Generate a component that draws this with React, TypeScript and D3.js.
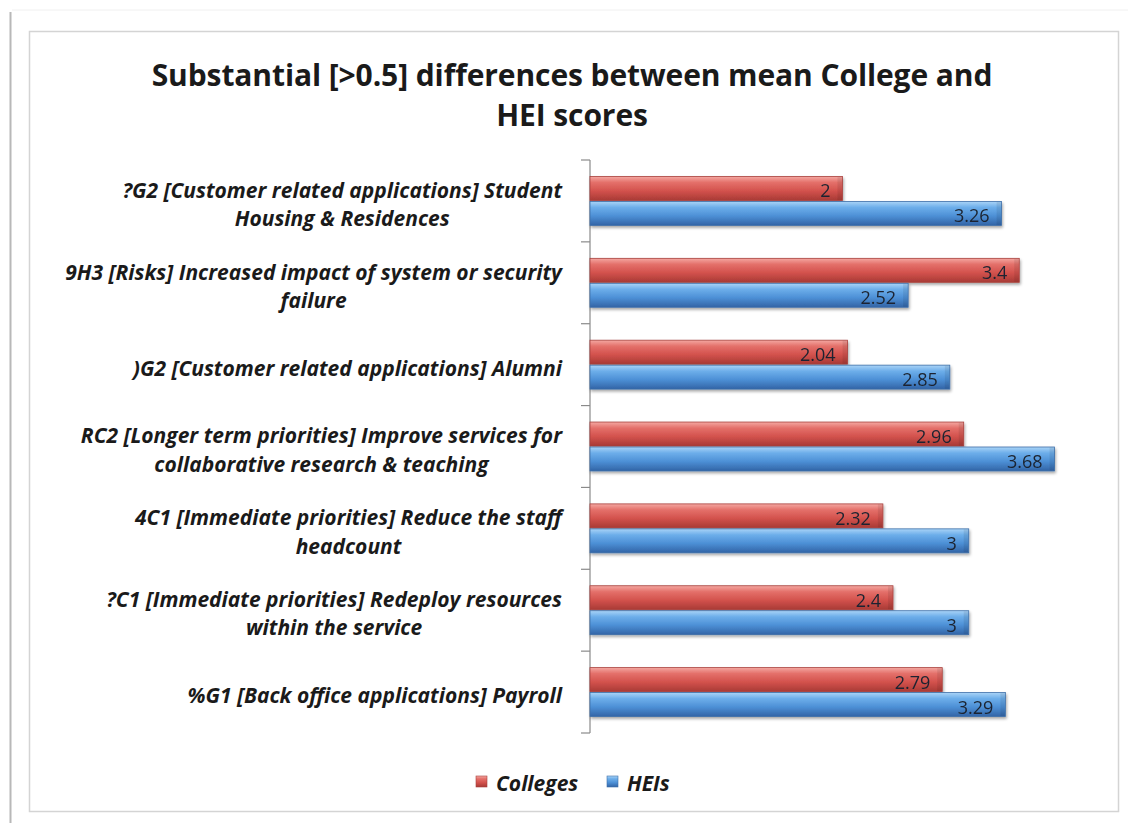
import React, { useLayoutEffect, useRef, useState } from "react";
import * as d3 from "d3";

const categories: string[][] = [
  ["?G2 [Customer related applications] Student", "Housing & Residences"],
  ["9H3 [Risks] Increased impact of system or security", "failure"],
  [")G2 [Customer related applications] Alumni"],
  ["RC2 [Longer term priorities] Improve services for", "collaborative research & teaching"],
  ["4C1 [Immediate priorities] Reduce the staff", "headcount"],
  ["?C1 [Immediate priorities] Redeploy resources", "within the service"],
  ["%G1 [Back office applications] Payroll"],
];
const colleges: number[] = [2, 3.4, 2.04, 2.96, 2.32, 2.4, 2.79];
const heis: number[] = [3.26, 2.52, 2.85, 3.68, 3, 3, 3.29];
const seriesNames = ["Colleges", "HEIs"];
const titleLines = ["Substantial [>0.5] differences between mean College and", "HEI scores"];

const W = 1128;
const H = 823;
const FONT = "'Open Sans', Lato, sans-serif";
const LABEL_RIGHT = 562;

export default function App() {
  const x = d3.scaleLinear().domain([0, 4]).range([590, 1095]);
  const ids = categories.map((_, i) => String(i));
  const y = d3.scaleBand<string>().domain(ids).range([160, 733]);
  const inner = d3.scaleBand<string>().domain(["0", "1"]).range([0, y.bandwidth()]).paddingOuter(0.66).paddingInner(0.04);
  const bh = inner.bandwidth();
  const series = [colleges, heis];
  const grads = ["gRed", "gBlue"];
  const strokes = ["#a8403c", "#3c6ea8"];
  const fmt = (v: number) => String(v);

  const groupRefs = useRef<(SVGGElement | null)[]>([]);
  const [widths, setWidths] = useState<number[] | null>(null);
  useLayoutEffect(() => {
    const w = groupRefs.current.map((g) => {
      if (!g) return 0;
      let m = 0;
      g.querySelectorAll("text").forEach((t) => {
        m = Math.max(m, (t as SVGTextElement).getComputedTextLength());
      });
      return m;
    });
    setWidths(w);
  }, []);

  return (
    <svg width={W} height={H} style={{ position: "absolute", left: 0, top: 0, background: "#fff" }}>
      <defs>
        <linearGradient id="gRed" x1="0" y1="0" x2="0" y2="1">
          <stop offset="0" stopColor="#f4a8a2" />
          <stop offset="0.25" stopColor="#e4706a" />
          <stop offset="0.6" stopColor="#d3524d" />
          <stop offset="1" stopColor="#a83a35" />
        </linearGradient>
        <linearGradient id="gBlue" x1="0" y1="0" x2="0" y2="1">
          <stop offset="0" stopColor="#aad4f7" />
          <stop offset="0.25" stopColor="#6daeea" />
          <stop offset="0.6" stopColor="#4d90d6" />
          <stop offset="1" stopColor="#3264a6" />
        </linearGradient>
        <filter id="shadow" x="-5%" y="-20%" width="110%" height="160%">
          <feGaussianBlur in="SourceAlpha" stdDeviation="1.5" />
          <feOffset dx="1" dy="2" result="b" />
          <feComponentTransfer><feFuncA type="linear" slope="0.35" /></feComponentTransfer>
          <feMerge><feMergeNode /><feMergeNode in="SourceGraphic" /></feMerge>
        </filter>
      </defs>
      {/* frame */}
      <line x1={12} y1={10} x2={W} y2={10} stroke="#f0f0f0" strokeWidth={1} />
      <line x1={10.5} y1={12} x2={10.5} y2={H} stroke="#b8b8b8" strokeWidth={2} />
      <rect x={29.5} y={31.5} width={1089} height={780} fill="none" stroke="#d4d4d4" strokeWidth={1.5} />

      {/* title */}
      {titleLines.map((t, i) => (
        <text key={i} x={572} y={74 + i * 40} textAnchor="middle" dominantBaseline="central"
          fontFamily={FONT} fontWeight="bold" fontSize={30} fill="#1a1a1a" letterSpacing={-0.1}>{t}</text>
      ))}

      {/* axis */}
      <line x1={590} y1={160} x2={590} y2={733} stroke="#8a8a8a" strokeWidth={1.2} />
      {[...ids, "end"].map((id, i) => {
        const yy = i < ids.length ? (y(id) as number) : 733;
        return <line key={i} x1={581} x2={590} y1={yy} y2={yy} stroke="#8a8a8a" strokeWidth={1.2} />;
      })}

      {/* category labels */}
      {categories.map((lines, i) => {
        const c = (y(String(i)) as number) + y.bandwidth() / 2 + 3;
        const lh = 28.5;
        const top = c - ((lines.length - 1) * lh) / 2;
        const bw = widths ? widths[i] : 0;
        const cx = LABEL_RIGHT - bw / 2;
        return (
          <g key={i} ref={(el) => { groupRefs.current[i] = el; }}>
            {lines.map((l, j) => (
              <text key={j} x={widths ? cx : LABEL_RIGHT} y={top + j * lh}
                textAnchor={widths ? "middle" : "end"} dominantBaseline="central"
                fontFamily={FONT} fontWeight="bold" fontStyle="italic" fontSize={21} fill="#1a1a1a"
              >{l}</text>
            ))}
          </g>
        );
      })}

      {/* bars */}
      {series.map((vals, s) => (
        <g key={s}>
          {vals.map((v, i) => {
            const y0 = (y(String(i)) as number) + (inner(String(s)) as number);
            const x1 = x(v);
            return (
              <g key={i} filter="url(#shadow)">
                <rect x={590} y={y0} width={x1 - 590} height={bh} fill={`url(#${grads[s]})`} stroke={strokes[s]} strokeWidth={0.8} />
                <rect x={x1 - 5} y={y0 + 0.5} width={4.5} height={bh - 1} fill="#000" opacity={0.08} />
                <text x={x1 - 12} y={y0 + bh / 2 + 2} textAnchor="end" dominantBaseline="central"
                  fontFamily={FONT} fontSize={18} fill="#1c2430">{fmt(v)}</text>
              </g>
            );
          })}
        </g>
      ))}

      {/* legend */}
      {seriesNames.map((n, s) => {
        const lx = [476, 607][s];
        return (
          <g key={n}>
            <rect x={lx} y={776} width={11} height={11} fill={`url(#${grads[s]})`} stroke={strokes[s]} strokeWidth={0.6} />
            <text x={lx + 20} y={783} dominantBaseline="central" fontFamily={FONT} fontWeight="bold"
              fontStyle="italic" fontSize={21} fill="#1a1a1a">{n}</text>
          </g>
        );
      })}
    </svg>
  );
}
